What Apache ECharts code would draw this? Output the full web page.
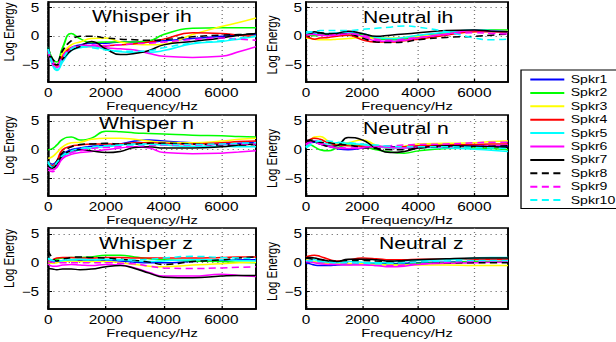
<!DOCTYPE html>
<html>
<head>
<meta charset="utf-8">
<script src="https://cdn.jsdelivr.net/npm/echarts@6/dist/echarts.min.js"></script>
<style>
  html, body { margin: 0; padding: 0; background: #fff; overflow: hidden; }
  /* the original figure is a horizontally stretched export, so draw narrow and stretch */
  #chart { width: 481px; height: 342px; transform: scaleX(1.2807); transform-origin: 0 0; }
</style>
</head>
<body>
<div id="chart"></div>
<script>
// ---- data ----
const freqs = [0, 150, 300, 500, 800, 1100, 1500, 2000, 2500, 3000, 3500, 4000, 5000, 6000, 6600, 7200];
const speakers = ['Spkr1', 'Spkr2', 'Spkr3', 'Spkr4', 'Spkr5', 'Spkr6', 'Spkr7', 'Spkr8', 'Spkr9', 'Spkr10'];
const xTicks = [0, 2000, 4000, 6000];
const yTicks = [-5, 0, 5];
const panelTitles = ['Whisper ih', 'Neutral ih', 'Whisper n', 'Neutral n', 'Whisper z', 'Neutral z'];

// one row per speaker, values at freqs
const whisperIh = [
  [-2.5, -4.5, -5.0, -3.5, -2.0, -1.5, -1.2, -1.2, -1.0, -1.0, -1.0, -0.8, -0.4, 0.0, 0.2, 0.3],
  [-2.0, -4.0, -4.5, -2.0, 0.5, -0.4, -1.1, -1.0, -1.0, -1.0, -0.8, 0.3, 1.4, 1.5, 1.5, 1.5],
  [-2.8, -4.5, -5.0, -3.0, -1.5, -1.0, -0.4, -0.3, -1.0, -1.4, -1.5, -1.4, 0.3, 1.7, 2.4, 3.2],
  [-2.5, -4.5, -5.2, -3.5, -2.0, -1.8, -1.8, -1.7, -1.5, -1.3, -1.0, -0.5, 0.6, 0.5, 0.2, 0.0],
  [-2.0, -5.0, -6.0, -4.5, -2.5, -2.0, -1.8, -2.3, -2.7, -2.8, -2.8, -2.5, -1.3, -0.9, -0.5, 0.0],
  [-2.5, -4.8, -5.5, -4.0, -2.3, -1.8, -1.6, -2.0, -2.2, -2.4, -3.0, -3.5, -3.7, -3.5, -2.7, -1.8],
  [-2.5, -4.5, -5.0, -4.0, -2.5, -1.8, -0.9, -2.2, -3.2, -3.0, -2.5, -1.5, -0.9, -0.3, 0.2, 0.5],
  [-2.0, -4.0, -4.5, -2.5, -0.8, 0.0, 0.0, -0.3, -0.5, -0.6, -0.7, -0.6, -0.1, 0.2, 0.3, 0.5],
  [-2.5, -4.5, -5.0, -3.5, -2.0, -1.6, -1.5, -1.6, -1.5, -1.3, -1.2, -1.0, -0.6, -0.3, -0.5, -0.7],
  [-2.2, -4.8, -5.8, -4.0, -2.2, -1.8, -2.0, -2.4, -2.6, -2.6, -2.5, -2.0, -1.2, -0.8, -0.3, 0.0]
];
const neutralIh = [
  [0.3, 0.4, 0.5, 0.4, 0.3, 0.4, 0.6, 0.4, -0.3, -0.5, -0.3, 0.0, 0.6, 1.0, 1.0, 0.9],
  [0.3, 0.2, 0.1, 0.2, 0.3, 0.3, 0.4, 0.3, -0.4, -0.6, -0.5, -0.2, 0.5, 1.0, 1.1, 1.1],
  [-0.3, -0.4, -0.5, -0.6, -0.6, -0.5, -0.4, -0.2, -0.3, -0.3, -0.2, 0.0, 0.4, 0.8, 0.9, 0.9],
  [0.0, -0.3, -0.5, -0.3, -0.2, 0.0, 0.2, -0.6, -1.0, -1.0, -0.8, -0.5, 0.2, 0.8, 0.8, 0.7],
  [0.8, 0.8, 0.6, 0.5, 0.5, 0.6, 0.7, 0.5, -0.2, -0.4, -0.2, 0.2, 0.7, 1.1, 1.0, 0.8],
  [0.5, 0.5, 0.3, 0.2, 0.1, 0.2, 0.5, 0.0, -0.8, -0.9, -0.7, -0.3, 0.4, 1.0, 0.9, 0.8],
  [0.3, 0.5, 0.8, 0.6, 0.4, 0.5, 0.9, 0.5, 0.0, 0.2, 0.4, 0.6, 1.0, 1.1, 0.9, 0.8],
  [0.2, 0.4, 0.5, 0.6, 0.5, 0.5, 0.4, -0.3, -1.0, -1.1, -1.0, -0.6, -0.2, 0.0, 0.2, 0.4],
  [0.2, 0.3, 0.3, 0.2, 0.2, 0.3, 0.4, 0.2, -0.5, -0.7, -0.5, -0.2, 0.3, 0.6, 0.5, 0.4],
  [0.5, 0.7, 0.8, 1.0, 1.0, 1.0, 1.0, 1.2, 1.4, 1.6, 1.8, 1.6, 0.8, -0.3, -0.6, -0.5]
];
const whisperN = [
  [-2.0, -2.5, -2.0, -0.8, 0.0, 0.3, 0.6, 0.8, 1.0, 1.5, 1.7, 1.5, 1.2, 1.0, 1.1, 1.3],
  [0.0, 0.2, 0.8, 1.8, 2.2, 1.7, 2.0, 3.2, 3.1, 2.9, 2.8, 2.7, 2.5, 2.4, 2.3, 2.2],
  [-1.5, -1.2, -0.5, 0.5, 1.2, 1.3, 1.8, 2.0, 2.0, 1.8, 1.5, 1.3, 1.2, 1.5, 1.8, 2.0],
  [-2.0, -2.8, -2.0, 0.0, 0.6, 0.8, 1.0, 1.0, 1.0, 1.2, 1.2, 1.1, 1.0, 1.2, 1.4, 1.5],
  [-2.0, -3.0, -2.5, -1.2, -0.5, 0.0, 0.3, 0.5, 0.8, 1.0, 1.0, 0.8, 0.6, 0.6, 0.5, 0.5],
  [-3.0, -3.5, -3.0, -1.5, -0.8, -0.5, -0.3, 0.0, 0.3, 0.5, 0.3, -0.5, -0.7, -0.6, -0.4, -0.2],
  [-2.8, -3.2, -2.5, -1.0, -0.2, 0.0, -0.2, -0.5, -0.3, 0.4, 0.5, 0.3, 0.3, 0.5, 0.8, 1.0],
  [-2.5, -3.0, -2.0, -0.5, 0.5, 0.9, 1.0, 1.1, 1.0, 1.0, 1.1, 1.1, 1.0, 0.8, 0.8, 0.9],
  [-3.5, -3.8, -3.0, -1.5, -0.5, -0.2, 0.2, 0.4, 0.5, 0.6, 0.7, 0.8, 0.8, 0.9, 1.0, 1.0],
  [-2.3, -3.0, -2.2, -1.0, -0.2, 0.2, 0.5, 0.7, 0.8, 0.8, 0.9, 0.9, 0.9, 1.0, 1.1, 1.2]
];
const neutralN = [
  [1.0, 1.2, 1.3, 1.0, 0.6, 0.2, 0.0, 0.3, 0.6, 0.5, 0.5, 0.6, 0.7, 0.7, 0.6, 0.6],
  [0.5, 0.8, 0.5, 0.0, -0.2, 0.3, 0.8, 0.6, 0.0, -0.4, -0.6, -0.2, 0.2, 0.3, 0.2, 0.0],
  [1.0, 1.5, 2.2, 2.3, 1.5, 1.0, 1.2, 1.7, 0.8, 0.3, 0.6, 1.0, 1.1, 1.2, 1.4, 1.5],
  [1.2, 1.8, 2.0, 1.8, 1.2, 0.8, 0.7, 0.6, 0.5, 0.4, 0.5, 0.7, 0.8, 0.9, 1.0, 1.0],
  [0.5, 1.3, 1.6, 1.3, 1.0, 1.2, 1.1, 0.9, 0.6, 0.3, 0.3, 0.4, 0.3, 0.1, -0.1, -0.3],
  [0.8, 1.3, 1.5, 1.2, 0.6, 0.3, 0.2, 0.3, 0.5, 0.4, 0.3, 0.4, 0.5, 0.6, 0.7, 0.8],
  [1.0, 1.5, 1.4, 1.0, 0.6, 0.7, 2.1, 1.7, 0.3, -0.5, -0.3, 0.3, 0.7, 0.6, 0.5, 0.4],
  [1.5, 1.7, 1.5, 1.3, 1.2, 1.0, 0.8, 0.4, 0.2, 0.0, 0.0, 0.3, 0.5, 0.5, 0.6, 0.7],
  [1.0, 1.3, 1.2, 1.0, 0.6, 0.4, 0.3, 0.4, 0.6, 0.7, 0.8, 0.9, 1.0, 1.2, 1.3, 1.3],
  [0.3, 0.8, 1.2, 1.5, 1.5, 1.3, 1.2, 1.0, 0.8, 0.6, 0.5, 0.5, 0.5, 0.4, 0.3, 0.2]
];
const whisperZ = [
  [0.3, 0.2, 0.2, 0.3, 0.4, 0.4, 0.4, 0.4, 0.3, 0.1, 0.0, 0.0, 0.2, 0.4, 0.5, 0.5],
  [0.5, 0.4, 0.6, 0.8, 0.9, 0.9, 1.0, 1.3, 1.3, 1.0, 0.7, 0.5, 0.3, 0.2, 0.1, 0.0],
  [0.0, -0.1, 0.0, 0.2, 0.3, 0.2, 0.2, 0.2, 0.0, -0.3, -0.6, -0.7, -0.4, -0.2, 0.0, 0.1],
  [0.3, 0.5, 0.8, 0.9, 0.9, 0.8, 0.8, 0.9, 0.9, 0.8, 0.8, 0.8, 0.8, 0.9, 1.0, 1.0],
  [0.8, 0.4, 0.3, 0.4, 0.5, 0.6, 0.5, 0.6, 0.5, 0.3, 0.2, 0.3, 0.5, 0.5, 0.4, 0.3],
  [-0.2, -0.6, -0.6, -0.4, -0.3, -0.4, -0.5, -0.3, -0.4, -0.9, -1.7, -2.3, -2.3, -2.0, -2.2, -2.4],
  [-1.0, -1.1, -1.2, -1.1, -1.1, -1.2, -1.1, -0.7, -0.5, -1.0, -1.8, -2.5, -2.6, -2.3, -2.2, -2.2],
  [2.0, 0.8, 0.3, 0.6, 0.9, 1.0, 0.9, 0.8, 0.6, 0.4, 0.1, -0.3, 0.2, 0.5, 0.8, 1.0],
  [0.2, 0.1, 0.0, 0.0, 0.0, 0.0, 0.0, 0.0, -0.1, -0.2, -0.6, -0.9, -1.0, -0.9, -0.8, -0.7],
  [0.6, 0.4, 0.3, 0.4, 0.5, 0.5, 0.5, 0.5, 0.5, 0.5, 0.6, 0.8, 1.1, 0.9, 0.8, 0.7]
];
const neutralZ = [
  [0.0, -0.2, -0.4, -0.5, -0.5, -0.4, -0.3, -0.2, -0.2, -0.2, -0.1, 0.0, 0.1, 0.2, 0.2, 0.2],
  [0.3, 0.2, 0.1, 0.0, -0.1, -0.1, -0.2, -0.2, -0.3, -0.3, -0.3, -0.1, 0.0, 0.2, 0.2, 0.2],
  [0.5, 0.3, 0.1, 0.0, -0.1, -0.1, -0.2, -0.2, -0.3, -0.4, -0.4, -0.4, -0.4, -0.5, -0.5, -0.5],
  [1.0, 1.2, 1.3, 1.1, 0.6, 0.3, 0.5, 0.8, 0.7, 0.5, 0.5, 0.6, 0.6, 0.6, 0.6, 0.6],
  [0.3, 0.4, 0.5, 0.3, 0.1, 0.0, 0.2, 0.1, 0.0, 0.1, 0.3, 0.4, 0.5, 0.8, 0.9, 0.9],
  [0.2, 0.1, 0.0, -0.2, -0.3, -0.3, -0.4, -0.4, -0.5, -0.7, -0.6, -0.3, -0.1, 0.0, 0.1, 0.1],
  [0.9, 0.9, 0.8, 0.6, 0.3, 0.2, 0.6, 0.6, 0.5, 0.3, 0.4, 0.5, 0.7, 0.8, 0.8, 0.8],
  [0.8, 0.7, 0.6, 0.5, 0.4, 0.3, 0.4, 0.4, 0.3, 0.2, 0.1, 0.1, 0.0, 0.0, 0.0, 0.0],
  [0.3, 0.2, 0.2, 0.1, 0.0, 0.0, -0.1, -0.2, -0.5, -0.5, -0.4, -0.2, 0.0, 0.2, 0.3, 0.3],
  [0.4, 0.3, 0.3, 0.2, 0.1, 0.0, 0.0, -0.1, -0.2, -0.1, 0.0, 0.1, 0.3, 0.4, 0.4, 0.4]
];
const panelData = [whisperIh, neutralIh, whisperN, neutralN, whisperZ, neutralZ];

// ---- styles ----
const lineColors = ['#0000ff', '#00ff00', '#ffff00', '#ff0000', '#00ffff', '#ff00ff', '#000000', '#000000', '#ff00ff', '#00ffff'];
const dashed = [false, false, false, false, false, false, false, true, true, true];

const S = 616 / 481;
const px = (x) => x / S;   // target pixels -> unstretched canvas pixels
const font = '"Liberation Sans", Arial, Helvetica, sans-serif';

// plot boxes in target pixels
const cols = [{ left: 40, width: 216 }, { left: 306, width: 202 }];
const rows = [{ top: 2, height: 80 }, { top: 115, height: 81 }, { top: 228, height: 81 }];
const titlePos = [[92, 8], [363, 9], [99, 115], [363, 120], [99, 235], [379, 235]];

const layout = panelTitles.map((t, i) => ({ col: i % 2, row: Math.floor(i / 2) }));

const option = {
  animation: false,
  textStyle: { fontFamily: font },
  title: panelTitles.map((t, i) => ({
    text: t,
    left: px(titlePos[i][0]),
    top: titlePos[i][1],
    padding: 0,
    textStyle: { fontFamily: font, fontSize: 16.5, fontWeight: 'normal', color: '#000' }
  })),
  legend: {
    data: speakers,
    orient: 'vertical',
    left: px(521),
    top: 70,
    padding: [4, 30, 3, px(8)],
    itemWidth: px(34),
    itemHeight: 11,
    itemGap: 2.4,
    itemTextGap: px(5),
    itemStyle: { opacity: 0 },
    borderColor: '#000',
    borderWidth: 1,
    textStyle: { fontFamily: font, fontSize: 11, lineHeight: 11, color: '#000' }
  },
  grid: layout.map(({ col, row }) => ({
    left: px(cols[col].left),
    width: px(cols[col].width),
    top: rows[row].top,
    height: rows[row].height,
    show: true,
    borderColor: '#000',
    borderWidth: 1.5
  })),
  xAxis: layout.map((l, i) => ({
    type: 'value',
    gridIndex: i,
    min: 0,
    max: 7200,
    name: 'Frequency/Hz',
    nameLocation: 'middle',
    nameGap: 15,
    nameTextStyle: { fontFamily: font, fontSize: 11.5, color: '#000' },
    axisLine: { onZero: false, lineStyle: { color: '#000', width: 1.5 } },
    axisTick: { inside: true, length: 3, customValues: xTicks, lineStyle: { color: '#000' } },
    axisLabel: { customValues: xTicks, margin: 5, fontSize: 12, color: '#000', formatter: (v) => String(v) },
    splitLine: { show: true, lineStyle: { color: '#777', width: 1, type: [1, 3] } }
  })),
  yAxis: layout.map(({ col }, i) => ({
    type: 'value',
    gridIndex: i,
    min: -8,
    max: 6,
    name: 'Log Energy',
    nameLocation: 'middle',
    nameGap: col === 0 ? 11 : 12.5,
    nameTextStyle: {
      fontFamily: font, fontSize: 11.5, color: '#000',
      padding: col === 0 ? [0, 0, 0, 20] : [0, 6, 0, 0]
    },
    axisLine: { onZero: false, lineStyle: { color: '#000', width: 1.5 } },
    axisTick: { inside: true, length: 3, customValues: yTicks, lineStyle: { color: '#000' } },
    axisLabel: {
      customValues: yTicks, margin: col === 0 ? px(9) : px(4), fontSize: 12, color: '#000',
      formatter: (v) => String(v).replace('-', '\u2212')
    },
    splitLine: { show: true, lineStyle: { color: '#777', width: 1, type: [1, 3] } }
  })),
  series: []
};

panelData.forEach((rowsData, p) => {
  rowsData.forEach((vals, s) => {
    option.series.push({
      type: 'line',
      name: speakers[s],
      xAxisIndex: p,
      yAxisIndex: p,
      data: freqs.map((f, k) => [f, vals[k]]),
      smooth: true,
      symbol: 'none',
      lineStyle: { color: lineColors[s], width: 1.5, type: dashed[s] ? [5.5, 3.5] : 'solid' },
      itemStyle: { color: lineColors[s] }
    });
  });
});

const chart = echarts.init(document.getElementById('chart'), null, { renderer: 'svg', width: 481, height: 342 });
chart.setOption(option);
</script>
</body>
</html>
